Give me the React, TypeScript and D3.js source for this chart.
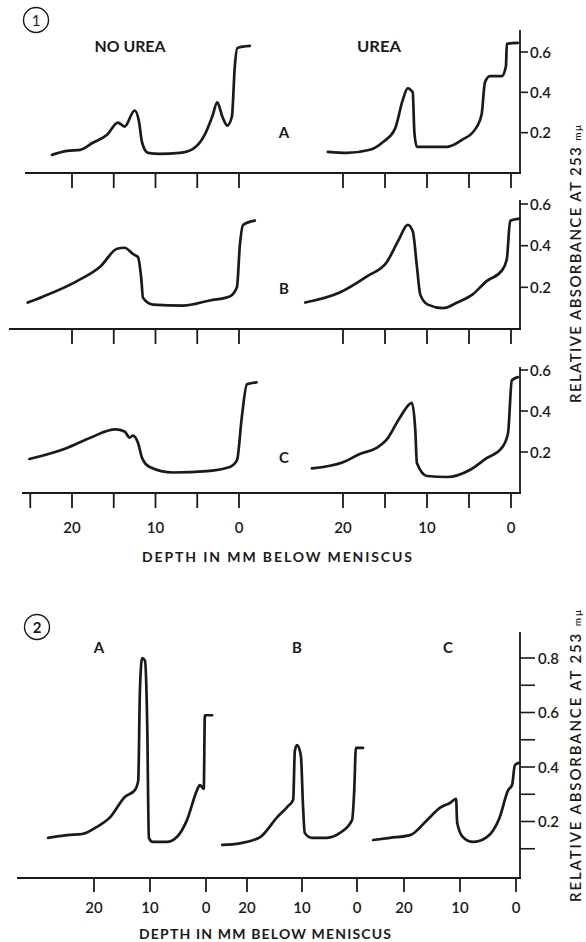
import React from "react";
import * as d3 from "d3";

// figure 1: depth (mm below meniscus) vs relative absorbance
const noUreaA: [number, number][] = [
  [22.4, 0.09], [20.6, 0.11], [19.0, 0.115], [17.5, 0.15], [15.8, 0.19], [14.5, 0.25], [13.7, 0.23],
  [12.5, 0.31], [12.0, 0.26], [11.6, 0.15], [10.9, 0.1], [9.5, 0.095], [7.1, 0.1], [5.5, 0.12],
  [4.1, 0.19], [3.2, 0.28], [2.6, 0.35], [2.0, 0.28], [1.4, 0.235], [0.85, 0.28], [0.5, 0.53],
  [0.2, 0.62], [-1.3, 0.63],
];
const ureaA: [number, number][] = [
  [21.8, 0.105], [19.5, 0.1], [16.8, 0.115], [15.2, 0.155], [13.8, 0.22], [12.9, 0.36], [12.3, 0.42],
  [11.7, 0.4], [11.5, 0.2], [11.2, 0.13], [9.6, 0.13], [7.6, 0.13], [5.8, 0.165], [4.3, 0.215],
  [3.5, 0.29], [3.1, 0.45], [2.5, 0.48], [1.1, 0.48], [0.6, 0.53], [0.5, 0.64], [-0.8, 0.645],
];
const noUreaB: [number, number][] = [
  [25.3, 0.127], [23.5, 0.155], [19.4, 0.23], [16.6, 0.3], [14.6, 0.385], [13.7, 0.39], [12.7, 0.36],
  [12.1, 0.345], [11.7, 0.24], [11.5, 0.15], [10.3, 0.117], [6.7, 0.112], [3.5, 0.137], [1.1, 0.156],
  [0.25, 0.2], [-0.1, 0.4], [-0.5, 0.5], [-1.9, 0.52],
];
const ureaB: [number, number][] = [
  [24.5, 0.127], [20.4, 0.175], [17.1, 0.254], [14.8, 0.32], [13.4, 0.425], [12.3, 0.5], [11.7, 0.47],
  [11.2, 0.3], [10.8, 0.165], [9.9, 0.117], [8.1, 0.1], [6.4, 0.127], [4.6, 0.165], [2.9, 0.23],
  [1.1, 0.28], [0.5, 0.335], [0.1, 0.52], [-1.0, 0.53],
];
const noUreaC: [number, number][] = [
  [25.1, 0.166], [20.6, 0.22], [17.8, 0.27], [14.8, 0.31], [13.7, 0.3], [13.1, 0.27], [12.7, 0.28],
  [12.1, 0.245], [11.6, 0.17], [10.7, 0.127], [7.9, 0.1], [3.8, 0.107], [1.1, 0.127], [0.24, 0.16],
  [-0.35, 0.375], [-0.95, 0.53], [-2.1, 0.54],
];
const ureaC: [number, number][] = [
  [23.7, 0.12], [20.0, 0.15], [18.0, 0.19], [16.0, 0.22], [14.8, 0.26], [13.2, 0.37], [11.8, 0.44],
  [11.4, 0.31], [11.2, 0.146], [10.0, 0.083], [7.6, 0.078], [4.9, 0.112], [2.9, 0.17], [1.1, 0.22],
  [0.36, 0.29], [-0.1, 0.55], [-0.8, 0.565],
];

// figure 2
const fig2A: [number, number][] = [
  [28.2, 0.14], [24.8, 0.15], [22.1, 0.154], [19.5, 0.18], [17.1, 0.216], [14.5, 0.29], [12.7, 0.315],
  [12.1, 0.35], [11.8, 0.68], [11.4, 0.8], [10.9, 0.79], [10.5, 0.56], [10.2, 0.14], [9.5, 0.125],
  [7.0, 0.125], [5.2, 0.143], [3.4, 0.205], [1.6, 0.315], [1.1, 0.334], [0.4, 0.32], [0.2, 0.59],
  [-1.1, 0.59],
];
const fig2B: [number, number][] = [
  [24.5, 0.114], [21.3, 0.12], [17.6, 0.143], [14.5, 0.216], [12.7, 0.253], [11.6, 0.28], [11.3, 0.46],
  [10.9, 0.48], [10.2, 0.44], [9.8, 0.25], [9.5, 0.158], [8.2, 0.14], [5.5, 0.14], [3.1, 0.158],
  [0.9, 0.205], [0.5, 0.315], [0.2, 0.47], [-1.1, 0.47],
];
const fig2C: [number, number][] = [
  [25.5, 0.132], [22.5, 0.14], [18.9, 0.15], [15.9, 0.205], [13.6, 0.25], [11.8, 0.268], [10.7, 0.283],
  [10.5, 0.195], [9.5, 0.143], [7.7, 0.125], [5.2, 0.143], [2.9, 0.216], [1.4, 0.315], [0.7, 0.334],
  [0.2, 0.407], [-0.5, 0.415],
];

const rowLabels = ["A", "B", "C"];
const fig1YTicks = [0.2, 0.4, 0.6];
const fig1XTicks = [20, 15, 10, 5, 0];
const fig1XTicksC = [25, 20, 15, 10, 5, 0];
const fig1XLabels = [20, 10, 0];
const fig2YTicks = [0.1, 0.2, 0.3, 0.4, 0.5, 0.6, 0.7, 0.8];
const fig2YLabels = [0.2, 0.4, 0.6, 0.8];
const fig2XTicks = [20, 10, 0];

const FONT = "Lato, 'DejaVu Sans', sans-serif";
const INK = "#1a1a1a";

const rows = [
  { base: 173, y06: 52, axisTop: 30, lineStart: 25, labelY: 132, left: noUreaA, right: ureaA },
  { base: 329, y06: 204, axisTop: 200, lineStart: 9, labelY: 288, left: noUreaB, right: ureaB },
  { base: 493, y06: 370, axisTop: 367, lineStart: 22, labelY: 457, left: noUreaC, right: ureaC },
];

const xLeft = d3.scaleLinear().domain([0, 20]).range([239, 72]);
const xRight = d3.scaleLinear().domain([0, 20]).range([511, 343]);

const y2 = d3.scaleLinear().domain([0, 0.8]).range([876, 658]);
const x2 = [
  d3.scaleLinear().domain([0, 20]).range([206, 94]),
  d3.scaleLinear().domain([0, 20]).range([357, 247]),
  d3.scaleLinear().domain([0, 20]).range([516, 404]),
];
const fig2Data = [fig2A, fig2B, fig2C];
const fig2LabelX = [99, 297, 448];

function trace(data: [number, number][], x: d3.ScaleLinear<number, number>, y: d3.ScaleLinear<number, number>) {
  const line = d3
    .line<[number, number]>()
    .x((d) => x(d[0]))
    .y((d) => y(d[1]))
    .curve(d3.curveMonotoneX);
  return line(data) || "";
}

const curveStyle = { fill: "none", stroke: INK, strokeWidth: 2.7, strokeLinejoin: "round" as const, strokeLinecap: "round" as const };

export default function App() {
  return (
    <svg
      width={586}
      height={942}
      style={{ position: "absolute", left: 0, top: 0, background: "#fff" }}
      fontFamily={FONT}
      fontWeight="bold"
    >
      <rect width={586} height={942} fill="#fff" />

      {/* ---- figure 1 ---- */}
      <circle cx={36} cy={20} r={12.5} fill="none" stroke={INK} strokeWidth={1.4} />
      <text x={36} y={25.5} textAnchor="middle" fontSize={15} fontWeight="normal" fill={INK}>1</text>
      <text x={130} y={52} textAnchor="middle" fontSize={15} fill={INK} textLength={71} lengthAdjust="spacingAndGlyphs">NO UREA</text>
      <text x={379} y={52} textAnchor="middle" fontSize={15} fill={INK} textLength={44} lengthAdjust="spacingAndGlyphs">UREA</text>

      {rows.map((r, i) => {
        const y = d3.scaleLinear().domain([0, 0.6]).range([r.base, r.y06]);
        const ticks = i === 2 ? fig1XTicksC : fig1XTicks;
        return (
          <g key={i}>
            <line x1={r.lineStart} x2={521} y1={r.base} y2={r.base} stroke={INK} strokeWidth={1.8} />
            <line x1={520} x2={520} y1={r.axisTop} y2={r.base} stroke={INK} strokeWidth={1.8} />
            {ticks.map((t) => (
              <line key={"l" + t} x1={xLeft(t)} x2={xLeft(t)} y1={r.base} y2={r.base + 15} stroke={INK} strokeWidth={1.8} />
            ))}
            {fig1XTicks.map((t) => (
              <line key={"r" + t} x1={xRight(t)} x2={xRight(t)} y1={r.base} y2={r.base + 15} stroke={INK} strokeWidth={1.8} />
            ))}
            {fig1YTicks.map((t) => (
              <g key={"y" + t}>
                <line x1={520} x2={528} y1={y(t)} y2={y(t)} stroke={INK} strokeWidth={1.6} />
                <text x={530} y={y(t) + 5.5} fontSize={15} fontWeight={600} fill={INK}>{t.toFixed(1)}</text>
              </g>
            ))}
            <text x={284} y={r.labelY + 5.5} textAnchor="middle" fontSize={15} fill={INK}>
              {rowLabels[i]}
            </text>
            <path d={trace(r.left, xLeft, y)} {...curveStyle} />
            <path d={trace(r.right, xRight, y)} {...curveStyle} />
          </g>
        );
      })}

      {fig1XLabels.map((t) => (
        <g key={"xl" + t}>
          <text x={xLeft(t)} y={533} textAnchor="middle" fontSize={15} fontWeight={600} fill={INK}>{t}</text>
          <text x={xRight(t)} y={533} textAnchor="middle" fontSize={15} fontWeight={600} fill={INK}>{t}</text>
        </g>
      ))}
      <text x={277} y={562} textAnchor="middle" fontSize={14} fill={INK} textLength={270} lengthAdjust="spacing">
        DEPTH IN MM BELOW MENISCUS
      </text>
      <text transform="translate(581,264) rotate(-90)" textAnchor="middle" fontSize={15} fontWeight={600} fill={INK} textLength={278} lengthAdjust="spacing">
        RELATIVE ABSORBANCE AT 253 <tspan fontSize={10}>mμ</tspan>
      </text>

      {/* ---- figure 2 ---- */}
      <circle cx={37} cy={627} r={12.5} fill="none" stroke={INK} strokeWidth={1.4} />
      <text x={37} y={632.5} textAnchor="middle" fontSize={15} fill={INK}>2</text>

      <line x1={17} x2={521} y1={878} y2={878} stroke={INK} strokeWidth={1.8} />
      <line x1={520} x2={520} y1={632} y2={878} stroke={INK} strokeWidth={1.8} />
      {fig2YTicks.map((t) => (
        <line key={"t2" + t} x1={520} x2={535} y1={y2(t)} y2={y2(t)} stroke={INK} strokeWidth={1.6} />
      ))}
      {fig2YLabels.map((t) => (
        <text key={"l2" + t} x={538} y={y2(t) + 5.5} fontSize={15} fontWeight={600} fill={INK}>{t.toFixed(1)}</text>
      ))}
      {x2.map((sx, i) => (
        <g key={"p2" + i}>
          {fig2XTicks.map((t) => (
            <g key={t}>
              <line x1={sx(t)} x2={sx(t)} y1={878} y2={892} stroke={INK} strokeWidth={1.8} />
              <text x={sx(t)} y={913} textAnchor="middle" fontSize={15} fontWeight={600} fill={INK}>{t}</text>
            </g>
          ))}
          <text x={fig2LabelX[i]} y={653} textAnchor="middle" fontSize={15} fill={INK}>
            {rowLabels[i]}
          </text>
          <path d={trace(fig2Data[i], sx, y2)} {...curveStyle} />
        </g>
      ))}
      <text x={265} y={939} textAnchor="middle" fontSize={14} fill={INK} textLength={252} lengthAdjust="spacing">
        DEPTH IN MM BELOW MENISCUS
      </text>
      <text transform="translate(581,756) rotate(-90)" textAnchor="middle" fontSize={15} fontWeight={600} fill={INK} textLength={292} lengthAdjust="spacing">
        RELATIVE ABSORBANCE AT 253 <tspan fontSize={10}>mμ</tspan>
      </text>
    </svg>
  );
}
